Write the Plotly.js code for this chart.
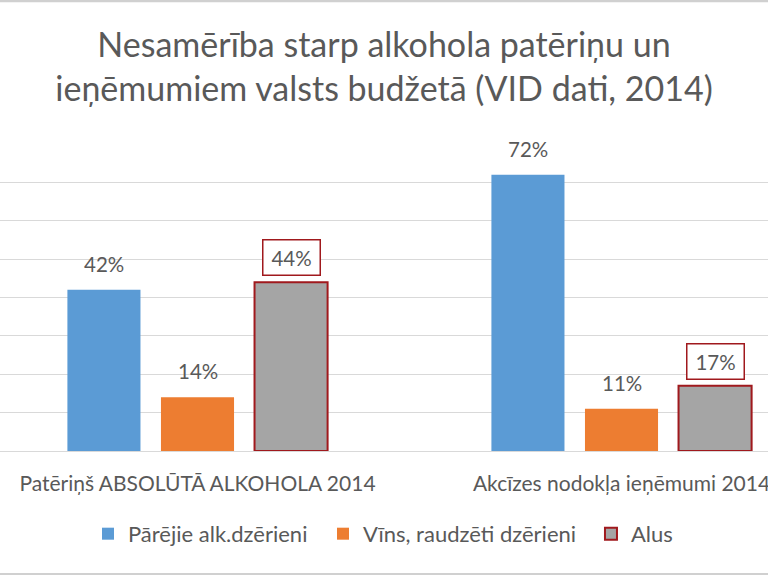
<!DOCTYPE html>
<html>
<head>
<meta charset="utf-8">
<script src="https://cdn.plot.ly/plotly-3.0.1.min.js"></script>
<style>html,body{margin:0;padding:0;background:#fff;}#chart{width:768px;height:575px;}</style>
</head>
<body>
<div id="chart"></div>
<script>
const categories = ["Patēriņš ABSOLŪTĀ ALKOHOLA 2014", "Akcīzes nodokļa ieņēmumi 2014"];
const seriesNames = ["Pārējie alk.dzērieni", "Vīns, raudzēti dzērieni", "Alus"];
const otherDrinks = [42, 72];
const wine = [14, 11];
const beer = [44, 17];
const yTicks = [0, 10, 20, 30, 40, 50, 60, 70, 80];

const textColor = "#595959";
const fontFam = "Lato, 'Open Sans', sans-serif";
const colors = ["#5B9BD5", "#ED7D31", "#A5A5A5"];
const beerLine = "#A0191D";
const seriesVals = [otherDrinks, wine, beer];

const traces = seriesVals.map((vals, i) => ({
  type: "bar",
  name: seriesNames[i],
  x: categories,
  y: vals,
  marker: {
    color: colors[i],
    line: i === 2 ? {color: beerLine, width: 2} : {width: 0}
  },
  legend: i === 0 ? "legend" : (i === 1 ? "legend2" : "legend3"),
  hoverinfo: "x+y+name"
}));

const slotPx = 93.5;
const annotations = [];
seriesVals.forEach((vals, i) => {
  vals.forEach((v, j) => {
    const boxed = i === 2;
    const a = {
      x: categories[j], y: v, xref: "x", yref: "y",
      text: v + "%", showarrow: false,
      xshift: (i - 1) * slotPx,
      yshift: boxed ? 24.5 : 26,
      yanchor: "middle", xanchor: "center",
      font: {family: fontFam, size: 20.5, color: textColor}
    };
    if (boxed) {
      a.bordercolor = beerLine; a.borderwidth = 1.5; a.borderpad = 1;
      a.width = 54; a.height = 32; a.bgcolor = "#ffffff";
    }
    annotations.push(a);
  });
});

const legendBase = {
  orientation: "h", xref: "paper", yref: "paper", yanchor: "middle",
  y: -0.27, xanchor: "left",
  font: {family: fontFam, size: 22, color: textColor},
  bgcolor: "rgba(0,0,0,0)", itemclick: false, itemdoubleclick: false
};

const layout = {
  width: 768, height: 575,
  margin: {l: 0, r: 0, t: 144, b: 124.3, pad: 0},
  paper_bgcolor: "#ffffff", plot_bgcolor: "#ffffff",
  title: {
    text: "Nesamērība starp alkohola patēriņu un<br>ieņēmumiem valsts budžetā (VID dati, 2014)",
    font: {family: fontFam, size: 34, color: textColor},
    x: 0.5, xanchor: "center", y: 0.901, yanchor: "middle"
  },
  barmode: "group",
  bargap: 0.338,
  bargroupgap: 0.219,
  xaxis: {
    type: "category",
    range: [-0.4658, 1.3455],
    showgrid: false, zeroline: false, showline: false, ticks: "",
    tickfont: {family: fontFam, size: 21, color: textColor},
    ticklabelstandoff: 18,
    fixedrange: true
  },
  yaxis: {
    range: [0, 80],
    tickvals: yTicks,
    showticklabels: false,
    showgrid: true, gridcolor: "#D9D9D9", gridwidth: 1,
    zeroline: true, zerolinecolor: "#D9D9D9", zerolinewidth: 1,
    showline: false, ticks: "",
    fixedrange: true
  },
  showlegend: true,
  legend: Object.assign({}, legendBase, {x: 0.1146}),
  legend2: Object.assign({}, legendBase, {x: 0.4206}),
  legend3: Object.assign({}, legendBase, {x: 0.7695}),
  annotations: annotations,
  shapes: [
    {type: "line", xref: "paper", yref: "paper", x0: 0, x1: 1, y0: 1, y1: 1,
     line: {color: "#D0D0D0", width: 3}},
    {type: "line", xref: "paper", yref: "paper", x0: 0, x1: 1, y0: 0, y1: 0,
     line: {color: "#D0D0D0", width: 3}}
  ]
};

// border lines sit at the page edges; convert pixel offsets to paper units
const plotH = 575 - 144 - 124.3;
layout.shapes[0].y0 = layout.shapes[0].y1 = (144 + plotH - 1) / plotH;
layout.shapes[1].y0 = layout.shapes[1].y1 = -(124.3 - 1) / plotH;

Plotly.newPlot("chart", traces, layout, {displayModeBar: false, staticPlot: true});
</script>
</body>
</html>
